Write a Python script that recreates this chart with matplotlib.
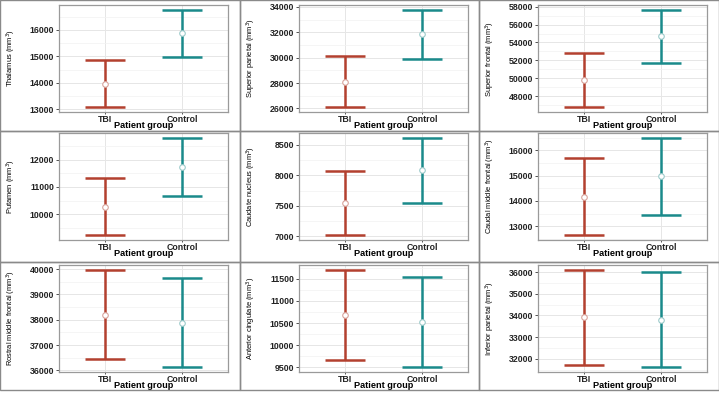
import numpy as np
import matplotlib
matplotlib.use('Agg')
from matplotlib import pyplot as plt
from matplotlib.ticker import MultipleLocator

# data (mean and interval ends, mm^3)
groups = ['TBI', 'Control']
regions = ['Thalamus', 'Superior parietal', 'Superior frontal',
           'Putamen', 'Caudate nucleus', 'Caudal middle frontal',
           'Rostral middle frontal', 'Anterior cingulate', 'Inferior parietal']
tbi_mean = [13970, 28100, 49800, 10280, 7553, 14165, 38208, 10680, 33932]
tbi_lo = [13075, 26100, 46790, 9234, 7021, 12654, 36443, 9669, 31729]
tbi_hi = [14857, 30100, 52800, 11320, 8074, 15681, 39973, 11698, 36104]
ctl_mean = [15887, 31830, 54670, 11740, 8085, 14973, 37882, 10518, 33810]
ctl_lo = [14985, 29870, 51670, 10683, 7553, 13450, 36129, 9507, 31611]
ctl_hi = [16763, 33770, 57640, 12795, 8613, 16488, 39659, 11529, 36000]
tick_step = [1000, 2000, 2000, 1000, 500, 1000, 1000, 500, 1000]

colors = ['#B3402F', '#1A8A8B']
edge_cols = ['#d8a49c', '#9ccaca']

W, H = 719, 393
fig = plt.figure(figsize=(W / 100, H / 100), dpi=100)
plt.rcParams['font.family'] = ['Liberation Sans', 'DejaVu Sans']

col_x = [0, 240, 479, 719]
row_y = [0, 131, 262, 390]
axes_top = [5, 133, 265]

for i, name in enumerate(regions):
    r, c = divmod(i, 3)
    px0, px1 = col_x[c], col_x[c + 1]
    py0, py1 = row_y[r], row_y[r + 1]
    # panel frame
    fig.add_artist(plt.Rectangle((px0 / W, 1 - py1 / H), (px1 - px0) / W, (py1 - py0) / H,
                                 transform=fig.transFigure, fill=False,
                                 edgecolor='#8a8a8a', linewidth=1.0))
    left = px0 + 59
    top = axes_top[r]
    ax = fig.add_axes([left / W, 1 - (top + 107) / H, 169 / W, 107 / H])

    means = [tbi_mean[i], ctl_mean[i]]
    los = [tbi_lo[i], ctl_lo[i]]
    his = [tbi_hi[i], ctl_hi[i]]
    for k in range(2):
        ax.errorbar([k + 1], [means[k]],
                    yerr=[[means[k] - los[k]], [his[k] - means[k]]],
                    fmt='none', ecolor=colors[k], elinewidth=1.8,
                    capsize=14.5, capthick=1.8, zorder=3)
        ax.plot([k + 1], [means[k]], 'o', ms=4, mfc='white',
                mec=edge_cols[k], mew=0.8, zorder=4)

    ax.set_xlim(0.4, 2.6)
    lo_all = min(los)
    hi_all = max(his)
    pad = 0.05 * (hi_all - lo_all)
    ax.set_ylim(lo_all - pad, hi_all + pad)
    ax.set_xticks([1, 2])
    ax.set_xticklabels(groups)
    ax.yaxis.set_major_locator(MultipleLocator(tick_step[i]))
    ax.yaxis.set_minor_locator(MultipleLocator(tick_step[i] / 2))
    ax.xaxis.set_minor_locator(matplotlib.ticker.NullLocator())
    ax.grid(which='major', color='#e6e6e6', linewidth=0.7)
    ax.grid(which='minor', axis='y', color='#f2f2f2', linewidth=0.5)
    ax.set_axisbelow(True)
    for s in ax.spines.values():
        s.set_color('#9a9a9a')
        s.set_linewidth(0.9)
    ax.tick_params(axis='both', which='major', length=2, width=0.6,
                   color='#333333', labelsize=6.3, pad=1.5)
    ax.tick_params(axis='x', which='major', pad=0.3, length=1.5)
    ax.tick_params(axis='y', which='minor', length=0)
    for lab in ax.get_xticklabels() + ax.get_yticklabels():
        lab.set_fontweight('bold')
        lab.set_color('#222222')
    ax.set_xlabel('Patient group', fontsize=6.6, fontweight='bold', labelpad=-1.5)
    ax.set_ylabel(name + ' (mm$^3$)', fontsize=5.4)
    ax.yaxis.set_label_coords(-0.245, 0.5)

fig.savefig('out.png', dpi=100)
